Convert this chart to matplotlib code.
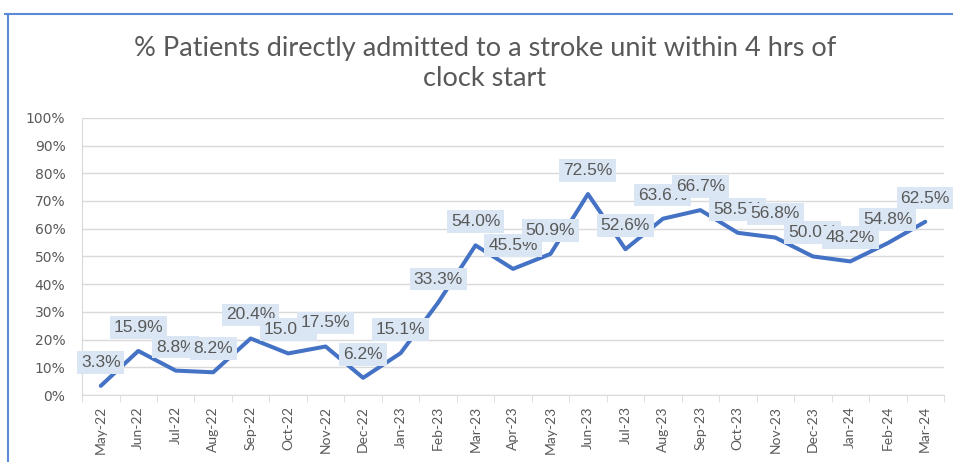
import numpy as np
import matplotlib.pyplot as plt
from matplotlib.lines import Line2D
from matplotlib.ticker import PercentFormatter

# monthly data
months = ["May-22", "Jun-22", "Jul-22", "Aug-22", "Sep-22", "Oct-22", "Nov-22", "Dec-22",
          "Jan-23", "Feb-23", "Mar-23", "Apr-23", "May-23", "Jun-23", "Jul-23", "Aug-23",
          "Sep-23", "Oct-23", "Nov-23", "Dec-23", "Jan-24", "Feb-24", "Mar-24"]
pct_admitted = [3.3, 15.9, 8.8, 8.2, 20.4, 15.0, 17.5, 6.2,
                15.1, 33.3, 54.0, 45.5, 50.9, 72.5, 52.6, 63.6,
                66.7, 58.5, 56.8, 50.0, 48.2, 54.8, 62.5]
y_ticks = [0, 10, 20, 30, 40, 50, 60, 70, 80, 90, 100]

line_col = "#4472C4"
text_col = "#595959"
grid_col = "#d9d9d9"
label_bg = "#dae6f3"

fig = plt.figure(figsize=(9.54, 4.62), dpi=100)
ax = fig.add_axes([0.086, 0.145, 0.9035, 0.6])

x = np.arange(len(months))
ax.plot(x, pct_admitted, color=line_col, lw=2.9, solid_capstyle="round", zorder=3)

for xi, v in zip(x, pct_admitted):
    ax.annotate(f"{v:.1f}%", (xi, v), xytext=(0, 17), textcoords="offset points",
                ha="center", va="center", fontsize=12.5, color=text_col,
                family=["Liberation Sans", "DejaVu Sans"],
                bbox=dict(boxstyle="square,pad=0.22", fc=label_bg, ec="none"),
                zorder=5)

ax.set_xlim(-0.5, len(months) - 0.5)
ax.set_ylim(0, 100)
ax.set_yticks(y_ticks)
ax.yaxis.set_major_formatter(PercentFormatter(decimals=0))
ax.grid(axis="y", color=grid_col, lw=1)
ax.set_axisbelow(True)

ax.set_xticks(x)
ax.set_xticklabels(months, rotation=90, family=["Lato", "DejaVu Sans"])
ax.set_xticks(np.arange(-0.5, len(months)), minor=True)
ax.tick_params(axis="x", which="major", length=0, pad=8, labelsize=10, labelcolor=text_col)
ax.tick_params(axis="x", which="minor", length=5, color=grid_col)
ax.tick_params(axis="y", length=0, pad=12, labelsize=10, labelcolor=text_col)

for s in ["top", "right"]:
    ax.spines[s].set_visible(False)
for s in ["left", "bottom"]:
    ax.spines[s].set_color(grid_col)

fig.text(0.508, 0.862, "% Patients directly admitted to a stroke unit within 4 hrs of\nclock start",
         ha="center", va="center", fontsize=19.5, color=text_col, linespacing=1.25,
         family=["Lato", "DejaVu Sans"])

# chart frame (top and left edge of the screenshot)
fig.add_artist(Line2D([0.005, 1.0], [0.969, 0.969], color="#5b8bd6", lw=1.5))
fig.add_artist(Line2D([0.008, 0.008], [0.0, 0.969], color="#5b8bd6", lw=1.5))

fig.savefig("out.png", dpi=100)
